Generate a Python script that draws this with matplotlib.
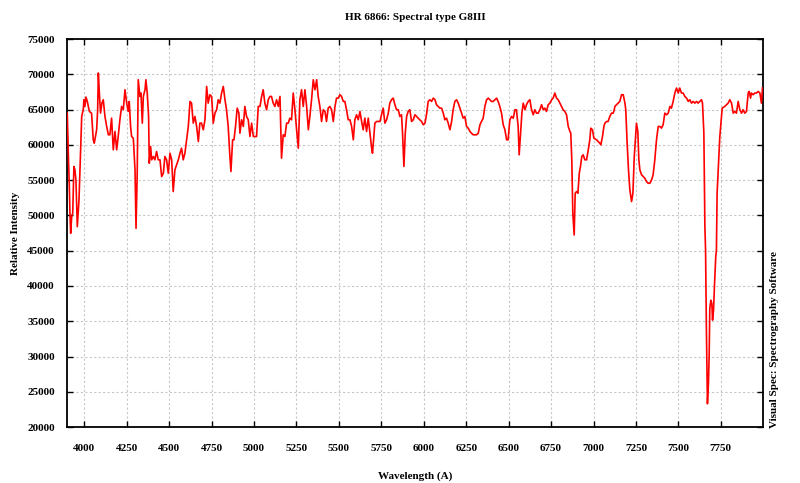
import matplotlib
matplotlib.use("Agg")
import matplotlib.pyplot as plt

plt.rcParams['font.family'] = ['Liberation Serif', 'DejaVu Serif']
plt.rcParams['font.weight'] = 'bold'

title = "HR 6866: Spectral type G8III"
x_label = "Wavelength (A)"
y_label = "Relative Intensity"
side_text = "Visual Spec: Spectrography Software"

wavelength = [
    3900, 3906, 3912, 3916, 3920, 3926, 3932, 3939, 3945, 3951, 3959, 3969, 3979, 3985, 3994, 3998,
    4004, 4010, 4018, 4030, 4043, 4053, 4059, 4073, 4079, 4083, 4089, 4096, 4104, 4112, 4122, 4132,
    4142, 4151, 4161, 4171, 4181, 4191, 4200, 4210, 4220, 4230, 4240, 4250, 4259, 4265, 4273, 4279,
    4289, 4299, 4305, 4312, 4318, 4328, 4334, 4342, 4348, 4358, 4363, 4371, 4379, 4383, 4391, 4397,
    4407, 4416, 4426, 4436, 4446, 4456, 4466, 4475, 4485, 4495, 4505, 4515, 4524, 4534, 4544, 4554,
    4564, 4573, 4583, 4593, 4603, 4613, 4623, 4632, 4642, 4652, 4662, 4672, 4681, 4691, 4701, 4711,
    4721, 4730, 4740, 4750, 4760, 4770, 4780, 4789, 4799, 4809, 4819, 4829, 4838, 4848, 4858, 4864,
    4874, 4882, 4891, 4901, 4911, 4917, 4927, 4937, 4946, 4956, 4966, 4976, 4986, 4996, 5005, 5015,
    5025, 5035, 5045, 5054, 5064, 5074, 5084, 5094, 5103, 5113, 5123, 5133, 5143, 5153, 5162, 5172,
    5182, 5192, 5202, 5211, 5221, 5231, 5241, 5251, 5261, 5270, 5280, 5290, 5300, 5310, 5320, 5329,
    5339, 5349, 5359, 5369, 5378, 5388, 5398, 5408, 5418, 5427, 5437, 5447, 5457, 5467, 5477, 5486,
    5496, 5506, 5516, 5526, 5535, 5545, 5555, 5565, 5575, 5585, 5594, 5604, 5614, 5624, 5634, 5643,
    5653, 5663, 5673, 5683, 5693, 5698, 5706, 5712, 5722, 5732, 5742, 5751, 5761, 5771, 5781, 5791,
    5800, 5810, 5820, 5830, 5840, 5850, 5859, 5869, 5875, 5883, 5891, 5899, 5908, 5918, 5928, 5938,
    5948, 5958, 5967, 5977, 5987, 5997, 6007, 6016, 6026, 6036, 6046, 6056, 6066, 6075, 6085, 6095,
    6105, 6115, 6124, 6134, 6144, 6154, 6164, 6173, 6183, 6193, 6203, 6213, 6223, 6232, 6242, 6252,
    6262, 6272, 6281, 6291, 6301, 6311, 6321, 6331, 6340, 6350, 6360, 6370, 6380, 6389, 6399, 6409,
    6419, 6429, 6438, 6448, 6458, 6468, 6478, 6488, 6497, 6507, 6517, 6527, 6537, 6546, 6556, 6562,
    6570, 6578, 6586, 6596, 6605, 6615, 6625, 6635, 6645, 6654, 6664, 6674, 6684, 6694, 6704, 6713,
    6723, 6733, 6743, 6753, 6762, 6772, 6782, 6792, 6802, 6812, 6821, 6831, 6841, 6851, 6861, 6866,
    6872, 6878, 6886, 6892, 6900, 6908, 6916, 6923, 6931, 6939, 6949, 6959, 6969, 6978, 6984, 6994,
    7002, 7018, 7027, 7037, 7043, 7053, 7061, 7067, 7077, 7086, 7096, 7106, 7116, 7122, 7126, 7135,
    7145, 7155, 7165, 7175, 7185, 7190, 7198, 7206, 7214, 7224, 7232, 7240, 7245, 7253, 7261, 7267,
    7273, 7283, 7293, 7302, 7312, 7322, 7332, 7342, 7351, 7361, 7371, 7381, 7391, 7400, 7410, 7420,
    7430, 7440, 7450, 7459, 7469, 7479, 7489, 7499, 7508, 7518, 7528, 7538, 7548, 7558, 7567, 7577,
    7587, 7597, 7607, 7616, 7626, 7636, 7642, 7650, 7656, 7660, 7665, 7671, 7677, 7681, 7685, 7691,
    7697, 7701, 7707, 7713, 7720, 7724, 7728, 7744, 7758, 7773, 7783, 7793, 7803, 7813, 7823, 7832,
    7842, 7852, 7862, 7872, 7881, 7891, 7901, 7911, 7917, 7925, 7930, 7940, 7950, 7960, 7970, 7980,
    7989, 7995,
]

intensity = [
    64510, 58830, 54100, 50070, 47470, 49840, 50310, 56940, 56470, 55050, 48420, 52200, 59310, 64040, 64990, 66410,
    65460, 66790, 66170, 64750, 64510, 60730, 60250, 62150, 64990, 70200, 67360, 64510, 65930, 66410, 64040, 62620,
    61440, 61440, 63800, 59310, 61910, 59310, 61200, 63570, 65460, 64990, 67830, 65930, 64750, 66170, 62620, 61200,
    60960, 56470, 48180, 55990, 69250, 66880, 67360, 63090, 66880, 67830, 69250, 67360, 64040, 57410, 59780, 57890,
    58360, 57890, 59070, 57890, 57890, 55520, 55990, 58360, 57890, 55990, 58830, 57890, 53390, 56470, 57180, 57890,
    58830, 59540, 57890, 58830, 60730, 62620, 66170, 65930, 63090, 64040, 62620, 60490, 63090, 63090, 62150, 63570,
    68300, 65930, 67120, 66880, 63090, 64510, 64990, 66410, 65930, 67360, 68300, 66410, 64990, 62620, 58360, 56230,
    60730, 60730, 62620, 65220, 64510, 61670, 63570, 62620, 65460, 64040, 63570, 61200, 63090, 61200, 61200, 61200,
    65460, 65460, 66880, 67830, 65930, 64990, 66410, 66880, 66880, 65930, 65460, 66410, 65460, 66880, 58120, 61440,
    61200, 63090, 63090, 63800, 63570, 67360, 64990, 62150, 59540, 66410, 67830, 65460, 67830, 65460, 62150, 64040,
    66410, 69250, 67830, 69250, 66880, 65460, 63330, 64990, 64750, 63330, 65220, 65460, 64990, 63330, 65460, 66640,
    66640, 67120, 66880, 66170, 66170, 64990, 63570, 63570, 62620, 60730, 63570, 64280, 63570, 64750, 63330, 62150,
    63800, 61910, 63800, 61670, 59540, 58830, 61200, 63090, 63330, 63330, 63330, 64280, 65220, 63090, 63570, 64510,
    65930, 66410, 66640, 65700, 64990, 64990, 64040, 64280, 61670, 56940, 61670, 64040, 64750, 64990, 63330, 63570,
    64280, 64040, 63800, 63570, 63330, 62860, 63090, 64280, 66170, 66410, 66170, 66640, 66410, 65700, 65460, 65220,
    65220, 64510, 63570, 63800, 63090, 62150, 63330, 64990, 66170, 66410, 65930, 65220, 64510, 63800, 64040, 62620,
    62380, 61910, 61670, 61440, 61440, 61440, 61670, 62860, 63330, 63800, 65460, 66410, 66640, 66410, 66170, 66170,
    66410, 66640, 66170, 65460, 64510, 62860, 62150, 60730, 60730, 63570, 64040, 63800, 64990, 64990, 62620, 58600,
    61670, 64510, 65930, 64990, 65700, 66170, 66410, 64990, 64280, 64990, 64510, 64510, 64990, 65700, 64990, 65220,
    64750, 65700, 65930, 66410, 66640, 67360, 66640, 66410, 65930, 65460, 64990, 64750, 64280, 62620, 61910, 61670,
    57890, 50310, 47230, 53150, 53390, 53150, 55990, 56940, 58360, 58600, 57890, 57890, 59310, 60730, 62380, 62150,
    60960, 60730, 60490, 60250, 60020, 61200, 62620, 63090, 63330, 63330, 64040, 64510, 64510, 64990, 65460, 65700,
    65930, 66170, 67120, 67120, 65930, 64990, 60250, 56470, 53630, 51970, 53150, 58360, 60250, 63090, 61910, 57890,
    56470, 55760, 55520, 55280, 54810, 54570, 54570, 55040, 55760, 57890, 60730, 62620, 62620, 62380, 62860, 64510,
    64280, 64510, 65460, 65220, 66170, 67360, 68070, 67360, 68070, 67360, 67360, 66880, 66640, 66170, 66410, 65930,
    66170, 65930, 66170, 65930, 66170, 66410, 65930, 61670, 48420, 45100, 33740, 23300, 26160, 29950, 36810, 37980,
    37520, 35160, 36580, 40370, 44150, 45100, 53150, 61200, 65220, 65460, 65700, 65930, 66410, 65930, 64510, 64750,
    64510, 66170, 64990, 64510, 64990, 64510, 64750, 67360, 67590, 66640, 67360, 67120, 67360, 67360, 67590, 67360,
    65930, 68070,
]

x_ticks = list(range(4000, 8000, 250))
y_ticks = list(range(20000, 80000, 5000))

fig = plt.figure(figsize=(8.0, 4.83), dpi=100)
ax = fig.add_axes([0.0841, 0.1159, 0.8700, 0.8030])

ax.plot(wavelength, intensity, color='#ff0000', linewidth=1.2, zorder=3)

ax.set_xlim(3900, 8000)
ax.set_ylim(20000, 75000)
ax.set_xticks(x_ticks)
ax.set_yticks(y_ticks)
ax.set_xticklabels([str(t) for t in x_ticks], fontsize=8, fontweight='bold')
ax.set_yticklabels([str(t) for t in y_ticks], fontsize=8, fontweight='bold')

ax.grid(True, color='#c8c8c8', linestyle=(0, (2, 2)), linewidth=0.8, zorder=0)
ax.tick_params(axis='both', direction='in', length=4, width=1, top=True, right=True,
               labeltop=False, labelright=False)
ax.tick_params(axis='x', pad=12)
ax.tick_params(axis='y', pad=9)
for s in ax.spines.values():
    s.set_linewidth(1.3)
    s.set_color('black')

ax.set_title(title, fontsize=8, fontweight='bold', pad=14)
ax.set_xlabel(x_label, fontsize=8, fontweight='bold')
ax.set_ylabel(y_label, fontsize=8, fontweight='bold')
ax.xaxis.set_label_coords(0.5, -0.115)
ax.yaxis.set_label_coords(-0.068, 0.5)

fig.text(0.962, 0.114, side_text, rotation=90, fontsize=8, fontweight='bold',
         ha='left', va='bottom')

fig.savefig('out.png', dpi=100)
